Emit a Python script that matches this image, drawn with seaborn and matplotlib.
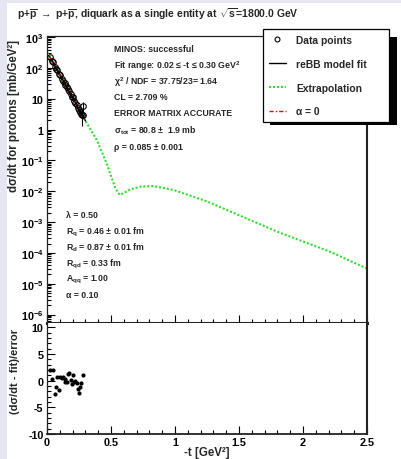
import numpy as np
import pandas as pd
import matplotlib
matplotlib.use("Agg")
import matplotlib.pyplot as plt
import seaborn as sns
from matplotlib.ticker import FixedLocator, FuncFormatter, MultipleLocator, LogLocator, NullFormatter
from matplotlib.patches import Rectangle
from matplotlib.lines import Line2D

# ---------------- data ----------------
t_data = [0.023, 0.039, 0.044, 0.060, 0.070, 0.081, 0.091, 0.100, 0.117, 0.128,
          0.138, 0.143, 0.154, 0.164, 0.174, 0.185, 0.195, 0.200, 0.211, 0.221,
          0.232, 0.242, 0.247, 0.258, 0.268, 0.279]
dsdt_data = [232, 171, 162, 110, 96, 85, 65, 61.5, 45.8, 38.1,
             31.6, 28.5, 23.6, 20.8, 17.7, 14.1, 11.6, 11.3, 8.85, 7.5,
             6.1, 4.95, 4.4, 3.8, 3.3, 2.95]
dsdt_err = [4.5, 5.5, 3.3, 3.6, 3.3, 3.0, 2.6, 2.5, 1.9, 1.6,
            1.3, 1.3, 1.1, 1.0, 0.9, 0.8, 0.7, 0.7, 0.6, 0.55,
            0.5, 0.45, 0.45, 0.4, 0.4, 0.35]
t_extra = [0.272, 0.284]
dsdt_extra = [2.9, 5.8]
err_extra = [1.6, 2.0]

residuals = [2.0, 0.4, 1.9, -2.5, -1.2, 0.7, -1.8, 0.7, 0.5, 0.7,
             0.3, -0.3, -0.3, 1.3, 1.5, 0.2, -0.6, 1.0, -0.3, -0.1,
             -0.5, -1.6, -2.4, -1.2, -0.5, 1.1]

t_fit = [0.02, 0.10, 0.20, 0.30]
dsdt_fit = [235, 60, 10.8, 1.95]
dsdt_alpha0 = [235, 60, 10.8, 1.95]

t_extrap = [0.0, 0.10, 0.20, 0.30, 0.39, 0.466, 0.53, 0.55, 0.57, 0.60, 0.65,
            0.73, 0.83, 0.99, 1.25, 1.51, 1.82, 2.21, 2.5]
dsdt_extrap = [330, 60, 10.8, 1.95, 0.45, 0.080, 0.014, 0.0095, 0.0076, 0.0088, 0.0115,
               0.0142, 0.0148, 0.011, 0.0047, 0.0016, 4.5e-4, 1.1e-4, 3.1e-5]

# ---------------- style ----------------
W, H = 401, 460
sns.set_theme(style="ticks")
plt.rcParams['font.family'] = ['Liberation Sans', 'DejaVu Sans']
plt.rcParams['font.weight'] = 'bold'
plt.rcParams['axes.unicode_minus'] = False
plt.rcParams['mathtext.fontset'] = 'custom'
plt.rcParams['mathtext.rm'] = 'Liberation Sans:bold'
plt.rcParams['mathtext.it'] = 'Liberation Sans:bold'
plt.rcParams['mathtext.bf'] = 'Liberation Sans:bold'
plt.rcParams['mathtext.sf'] = 'Liberation Sans:bold'

def fx(px):
    return px / W

def fy(py):
    return 1 - py / H

fig = plt.figure(figsize=(W / 100, H / 100), dpi=100)
fig.patch.set_facecolor('#e6e6f2')
bg = Rectangle((fx(7), 0), 1 - fx(7), fy(4), transform=fig.transFigure,
               facecolor='white', edgecolor='none', zorder=-10)
fig.patches.append(bg)

L, R, T, M, B = 47, 367, 37, 324, 435
ax1 = fig.add_axes([fx(L), fy(M), fx(R) - fx(L), fy(T) - fy(M)])
ax2 = fig.add_axes([fx(L), fy(B), fx(R) - fx(L), fy(M) - fy(B)])

green = '#33dd33'

# upper panel curves
sns.lineplot(x=t_extrap, y=dsdt_extrap, ax=ax1, color=green, lw=1.5,
             linestyle=(0, (1.0, 0.9)), legend=False, sort=False, zorder=2)
sns.lineplot(x=t_fit, y=dsdt_fit, ax=ax1, color='black', lw=1.0, legend=False, sort=False, zorder=3)
sns.lineplot(x=t_fit, y=dsdt_alpha0, ax=ax1, color='red', lw=1.0,
             linestyle=(0, (3, 1.5, 1, 1.5)), legend=False, sort=False, zorder=4)
ax1.errorbar(t_data + t_extra, dsdt_data + dsdt_extra, yerr=dsdt_err + err_extra,
             fmt='o', mfc='none', mec='black', ecolor='black', ms=4, mew=0.8,
             elinewidth=0.8, capsize=0, zorder=5)

ax1.set_yscale('log')
ax1.set_xlim(0, 2.5)
ax1.set_ylim(5.3e-7, 1.1e3)
ax1.yaxis.set_major_locator(FixedLocator([10.0 ** e for e in range(-6, 4)]))
ax1.yaxis.set_minor_locator(LogLocator(base=10, subs=np.arange(2, 10), numticks=40))

def logfmt(v, pos):
    e = int(round(np.log10(v)))
    if e == 0:
        return '1'
    if e == 1:
        return '10'
    return r'$\mathbf{10^{%d}}$' % e

ax1.yaxis.set_major_formatter(FuncFormatter(logfmt))
ax1.yaxis.set_minor_formatter(NullFormatter())
ax1.xaxis.set_major_locator(MultipleLocator(0.5))
ax1.xaxis.set_minor_locator(MultipleLocator(0.1))
ax1.tick_params(which='both', direction='in', left=True, bottom=True, right=False, top=False,
                labelbottom=False, labelsize=7.8, colors='black', width=0.8, pad=2.5)
ax1.tick_params(which='major', length=6)
ax1.tick_params(which='minor', length=3)
ax1.set_xlabel('')
ax1.set_ylabel('dσ/dt for protons [mb/GeV²]', fontsize=8.3, fontweight='bold', loc='top')
ax1.yaxis.set_label_coords(-0.085, 0.99)
for s in ['left', 'top']:
    ax1.spines[s].set_linewidth(0.9)
ax1.spines['right'].set_linewidth(1.5)
ax1.spines['bottom'].set_linewidth(2.2)
for s in ax1.spines.values():
    s.set_color('#222222')

# lower panel residuals
sns.scatterplot(x=t_data, y=residuals, ax=ax2, color='black', s=9, edgecolor='black',
                linewidth=0, legend=False, zorder=3)
ax2.set_xlim(0, 2.5)
ax2.set_ylim(-10, 10.8)
ax2.yaxis.set_major_locator(FixedLocator([-10, -5, 0, 5, 10]))
ax2.yaxis.set_minor_locator(MultipleLocator(1))
ax2.xaxis.set_major_locator(MultipleLocator(0.5))
ax2.xaxis.set_minor_locator(MultipleLocator(0.1))
ax2.xaxis.set_major_formatter(FuncFormatter(lambda v, p: '0' if v == 0 else ('%g' % v)))
ax2.yaxis.set_major_formatter(FuncFormatter(lambda v, p: '%d' % v))
ax2.tick_params(which='both', direction='in', left=True, bottom=True, right=False, top=False,
                labelsize=7.8, colors='black', width=0.8, pad=2.5)
ax2.tick_params(which='major', length=6)
ax2.tick_params(which='minor', length=3)
ax2.set_xlabel('-t [GeV²]', fontsize=8.3, fontweight='bold', labelpad=-1)
ax2.set_ylabel('(dσ/dt - fit)/error', fontsize=8.0, fontweight='bold', loc='top')
ax2.yaxis.set_label_coords(-0.085, 0.96)
ax2.spines['top'].set_visible(False)
ax2.spines['left'].set_linewidth(0.9)
ax2.spines['right'].set_linewidth(1.5)
ax2.spines['bottom'].set_linewidth(1.3)
for s in ax2.spines.values():
    s.set_color('#222222')

# title
fig.text(fx(17), fy(14), r'p+$\overline{\mathrm{p}}$ $\rightarrow$ p+$\overline{\mathrm{p}}$, diquark as a single entity at $\sqrt{\mathrm{s}}$=1800.0 GeV',
         ha='left', va='center', fontsize=7.5, fontweight='bold')

# annotations
ann_top = [
    (50, 'MINOS: successful'),
    (66, r'Fit range: 0.02 ≤ -t ≤ 0.30 GeV$^{2}$'),
    (82, r'χ$^{2}$ / NDF = 37.75/23= 1.64'),
    (98, 'CL = 2.709 %'),
    (114, 'ERROR MATRIX ACCURATE'),
    (131, r'σ$_{\mathrm{tot}}$ = 80.8 ±  1.9 mb'),
    (147, 'ρ = 0.085 ± 0.001'),
]
for py, s in ann_top:
    fig.text(fx(114), fy(py), s, ha='left', va='center', fontsize=6.3, fontweight='bold')

ann_bot = [
    (216, 'λ = 0.50'),
    (232, r'R$_{\mathrm{q}}$ = 0.46 ± 0.01 fm'),
    (248, r'R$_{\mathrm{d}}$ = 0.87 ± 0.01 fm'),
    (264, r'R$_{\mathrm{qd}}$ = 0.33 fm'),
    (280, r'A$_{\mathrm{qq}}$ = 1.00'),
    (296, 'α = 0.10'),
]
for py, s in ann_bot:
    fig.text(fx(66), fy(py), s, ha='left', va='center', fontsize=6.3, fontweight='bold')

# legend with shadow
handles = [
    Line2D([], [], marker='o', mfc='none', mec='black', ls='none', ms=3.5, mew=0.8),
    Line2D([], [], color='black', lw=1.0),
    Line2D([], [], color=green, lw=1.5, linestyle=(0, (1.0, 0.9))),
    Line2D([], [], color='red', lw=1.0, linestyle=(0, (3, 1.5, 1, 1.5))),
]
labels = ['Data points', 'reBB model fit', 'Extrapolation', 'α = 0']
shadow = Rectangle((fx(270), fy(126)), fx(397) - fx(270), fy(38) - fy(126),
                   transform=fig.transFigure, facecolor='black', edgecolor='none', zorder=4)
fig.patches.append(shadow)
leg = fig.legend(handles, labels, loc='upper left',
                 bbox_to_anchor=(fx(263), fy(122), fx(389) - fx(263), fy(30) - fy(122)),
                 mode='expand', borderaxespad=0, frameon=True, fancybox=False,
                 framealpha=1, edgecolor='black', borderpad=0.58, labelspacing=1.34,
                 handlelength=1.65, handletextpad=0.97, prop={'weight': 'bold', 'size': 7.4})
leg.get_frame().set_linewidth(0.9)
leg.set_zorder(5)

fig.savefig('out.png', dpi=100, facecolor=fig.get_facecolor())
